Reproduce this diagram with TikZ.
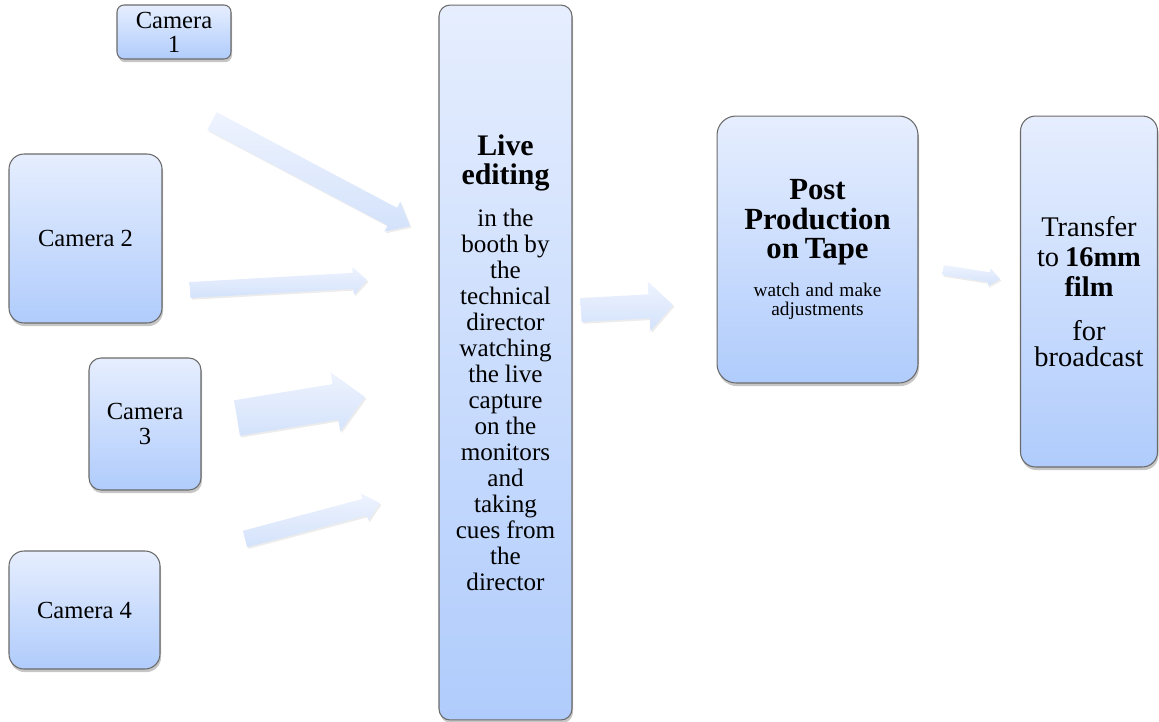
\documentclass[tikz,border=0pt]{standalone}
\usepackage{fontspec}
\setmainfont{Liberation Serif}
\usetikzlibrary{calc,shadows}
\definecolor{boxtop}{HTML}{E6EEFE}
\definecolor{boxbot}{HTML}{B0CCFC}
\definecolor{boxline}{HTML}{6A6A6A}
\definecolor{arrtop}{HTML}{EEF3FE}
\definecolor{arrbot}{HTML}{D3E2FB}

\tikzset{
  stagebox/.style={rectangle, rounded corners=#1, draw=boxline, line width=0.6pt,
    top color=boxtop, bottom color=boxbot,
    drop shadow={shadow xshift=0.6pt, shadow yshift=-1.8pt, opacity=0.45},
    align=center, inner sep=2pt},
  stagebox/.default=0.3cm,
  flowarrow/.style={top color=arrtop, bottom color=arrbot, draw=none,
    drop shadow={shadow xshift=0.8pt, shadow yshift=-1pt, opacity=0.15}}
}

% block arrow: tail, tip, half shaft, half head, head length
\newcommand{\flowblock}[5]{%
  \coordinate (hb) at ($(#2)!#5!(#1)$);
  \path[flowarrow] ($(#1)!#3!90:(#2)$) -- ($(hb)!#3!90:(#2)$) -- ($(hb)!#4!90:(#2)$)
    -- (#2) -- ($(hb)!#4!-90:(#2)$) -- ($(hb)!#3!-90:(#2)$) -- ($(#1)!#3!-90:(#2)$) -- cycle;
}
\newcommand{\camfont}{\fontsize{14}{13.7}\selectfont}

\begin{document}
\begin{tikzpicture}[x=0.02cm, y=-0.02cm]

	\useasboundingbox (0,0) rectangle (1159,721);

	\node[stagebox=0.14cm, minimum width=2.28cm, minimum height=1.08cm, font=\camfont] (cam1) at (174,32) {Camera\\1};
	\node[stagebox, minimum width=3.06cm, minimum height=3.38cm, font=\camfont] (cam2) at (85.5,238.5) {Camera 2};
	\node[stagebox=0.24cm, minimum width=2.24cm, minimum height=2.64cm, font=\camfont] (cam3) at (145,424) {Camera\\3};
	\node[stagebox, minimum width=3.02cm, minimum height=2.36cm, font=\camfont] (cam4) at (84.5,610) {Camera 4};

	\node[stagebox=0.22cm, minimum width=2.66cm, minimum height=14.3cm, text width=2.5cm] (live) at (505.5,362.5)
		{{\fontsize{17}{16.5}\selectfont\bfseries Live\\ editing\par}\vspace{9pt}%
		{\fontsize{14.3}{14.8}\selectfont in the\\ booth by\\ the\\ technical\\ director\\ watching\\ the live\\ capture\\ on the\\ monitors\\ and\\ taking\\ cues from\\ the\\ director\par}};

	\node[stagebox=0.38cm, minimum width=4.02cm, minimum height=5.34cm, text width=3.8cm] (post) at (817.5,249.5)
		{{\fontsize{17.5}{17}\selectfont\bfseries Post\\ Production\\ on Tape\par}\vspace{9pt}%
		{\fontsize{11}{11}\selectfont watch and make\\ adjustments\par}};

	\node[stagebox=0.3cm, minimum width=2.72cm, minimum height=7.02cm, text width=2.6cm] (film) at (1089,291.5)
		{{\fontsize{16.2}{17}\selectfont Transfer\\ to \textbf{16mm}\\ \textbf{film}\par}\vspace{10pt}%
		{\fontsize{16.2}{14.8}\selectfont for\\ broadcast\par}};

	\coordinate (a1s) at (212,121); \coordinate (a1e) at (410,226);
	\coordinate (a2s) at (190,290); \coordinate (a2e) at (367,280);
	\coordinate (a3s) at (237,418); \coordinate (a3e) at (365,397);
	\coordinate (a4s) at (245,539); \coordinate (a4e) at (380,503);
	\coordinate (a5s) at (581,310); \coordinate (a5e) at (673,305);
	\coordinate (a6s) at (943,270); \coordinate (a6e) at (1000,279);

	\flowblock{a1s}{a1e}{0.2cm}{0.34cm}{0.4cm}
	\flowblock{a2s}{a2e}{0.16cm}{0.28cm}{0.28cm}
	\flowblock{a3s}{a3e}{0.36cm}{0.6cm}{0.6cm}
	\flowblock{a4s}{a4e}{0.17cm}{0.28cm}{0.32cm}
	\flowblock{a5s}{a5e}{0.24cm}{0.5cm}{0.48cm}
	\flowblock{a6s}{a6e}{0.1cm}{0.18cm}{0.22cm}

\end{tikzpicture}
\end{document}
